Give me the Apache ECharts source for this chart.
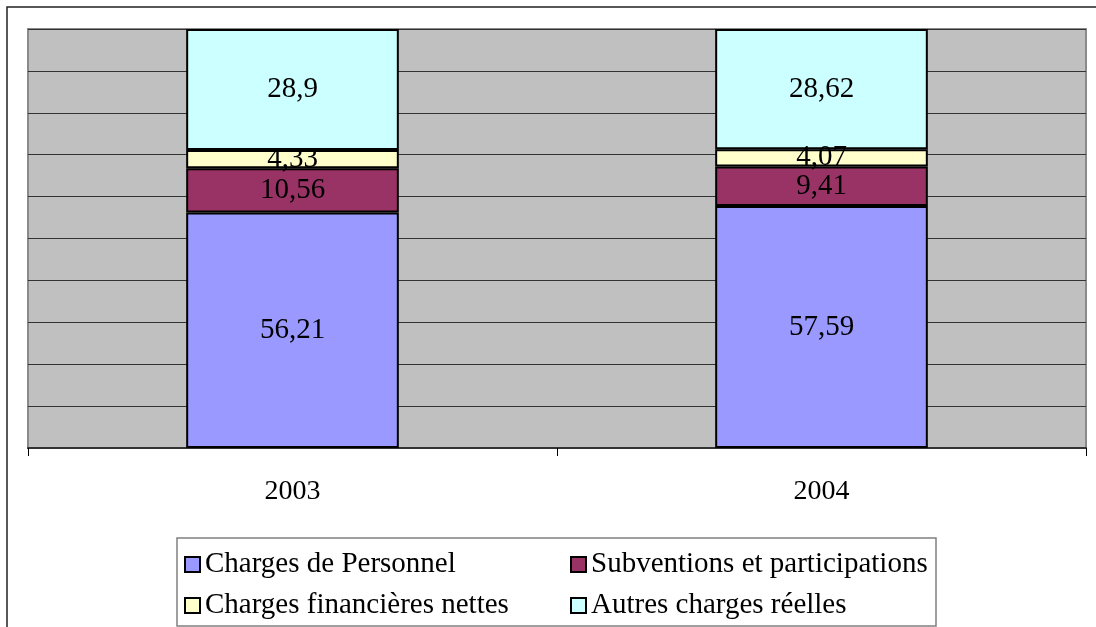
<!DOCTYPE html>
<html>
<head>
<meta charset="utf-8">
<script src="https://cdn.jsdelivr.net/npm/echarts@6/dist/echarts.min.js"></script>
<style>
  html, body { margin: 0; padding: 0; background: #fff; }
  #chart { width: 1096px; height: 627px; }
</style>
</head>
<body>
<div id="chart"></div>
<script>
const years = ['2003', '2004'];
const personnel = [56.21, 57.59];
const subventions = [10.56, 9.41];
const financieres = [4.33, 4.07];
const autres = [28.9, 28.62];

const seriesNames = ['Charges de Personnel', 'Subventions et participations', 'Charges financières nettes', 'Autres charges réelles'];
const seriesColors = ['#9999FF', '#993366', '#FFFFCC', '#CCFFFF'];
const seriesData = [personnel, subventions, financieres, autres];

const font = '"Liberation Serif", "Times New Roman", serif';

const chart = echarts.init(document.getElementById('chart'));

// 100% stacked: each column's shares, label keeps the raw value
const totals = years.map((_, j) => seriesData.reduce((s, arr) => s + arr[j], 0));

const series = seriesNames.map((name, i) => ({
  name: name,
  type: 'bar',
  stack: 'total',
  barWidth: '40.2%',
  data: seriesData[i].map((v, j) => ({ value: v / totals[j] * 100, raw: v })),
  itemStyle: { color: seriesColors[i], borderColor: '#000', borderWidth: 2 },
  label: {
    show: true,
    position: 'inside',
    color: '#000',
    fontFamily: font,
    fontSize: 29,
    formatter: p => String(p.data.raw).replace('.', ',')
  },
  emphasis: { disabled: true }
}));

const legendBase = {
  orient: 'vertical',
  icon: 'rect',
  itemWidth: 15,
  itemHeight: 15,
  itemGap: 10,
  selectedMode: false,
  itemStyle: { borderColor: '#000', borderWidth: 2 },
  textStyle: { fontFamily: font, fontSize: 29, color: '#000', lineHeight: 31 }
};

chart.setOption({
  animation: false,
  textStyle: { fontFamily: font },
  graphic: [
    {
      type: 'rect',
      shape: { x: 7, y: 7, width: 1200, height: 700 },
      style: { fill: 'none', stroke: '#222', lineWidth: 1.5 },
      silent: true
    },
    {
      type: 'rect',
      shape: { x: 177, y: 538, width: 759, height: 88 },
      style: { fill: 'none', stroke: '#808080', lineWidth: 1.5 },
      silent: true
    }
  ],
  legend: [
    Object.assign({}, legendBase, { left: 179, top: 544, data: [seriesNames[0], seriesNames[2]] }),
    Object.assign({}, legendBase, { left: 565, top: 544, data: [seriesNames[1], seriesNames[3]] })
  ],
  grid: {
    left: 28,
    right: 10,
    top: 29,
    bottom: 179,
    show: true,
    backgroundColor: '#C0C0C0',
    borderColor: '#8a8a8a',
    borderWidth: 2
  },
  xAxis: {
    type: 'category',
    data: years,
    axisLine: { show: true, lineStyle: { color: '#333', width: 2 } },
    axisTick: { show: true, length: 8, lineStyle: { color: '#000', width: 1 } },
    axisLabel: { color: '#000', fontFamily: font, fontSize: 28, margin: 30 }
  },
  yAxis: {
    type: 'value',
    min: 0,
    max: 100,
    interval: 10,
    axisLine: { show: false },
    axisTick: { show: false },
    axisLabel: { show: false },
    splitLine: { show: true, lineStyle: { color: '#333', width: 1 } }
  },
  series: series
});
</script>
</body>
</html>
